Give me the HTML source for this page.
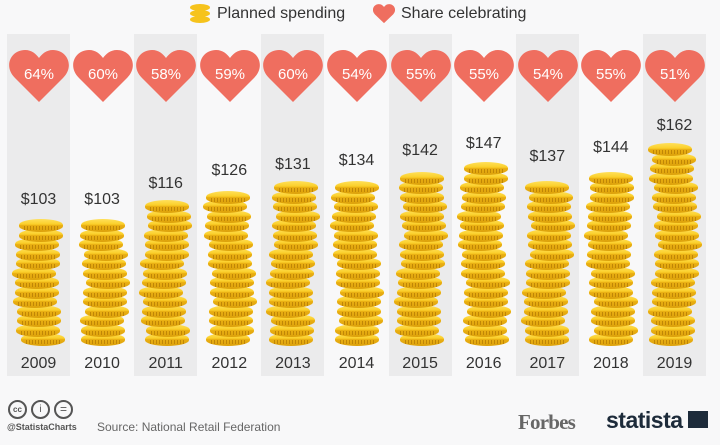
<!DOCTYPE html>
<html><head><meta charset="utf-8"><style>
body{margin:0;width:720px;height:445px;background:#f8f8f9;position:relative;overflow:hidden;font-family:"Liberation Sans","DejaVu Sans",sans-serif;}
.col{position:absolute;top:34px;height:342px;width:63px;}
.sh{background:#ebebec;}
.yr{position:absolute;top:355px;width:63px;text-align:center;font-size:16px;color:#333;}
.val{position:absolute;width:63px;text-align:center;font-size:16px;color:#333;}
.heart{position:absolute;top:49px;width:60px;height:54px;}
.coin{position:absolute;width:44px;height:13px;border-radius:50%/45%;background:linear-gradient(#ffe05a 0,#fbcf2a 40%,#e9ae12 50%,#dca10b 100%);}
.coin:after{content:"";position:absolute;left:5px;right:5px;top:7px;height:4px;background:repeating-linear-gradient(90deg,#c08606 0 1px,transparent 1px 3px);}
</style></head><body>
<div style="position:absolute;left:190px;top:4px;width:20px;height:20px">
<div style="position:absolute;top:0;left:0;width:20px;height:7px;border-radius:50%;background:#f6c31c"></div>
<div style="position:absolute;top:6px;left:0;width:20px;height:7px;border-radius:50%;background:#f6c31c"></div>
<div style="position:absolute;top:12px;left:0;width:20px;height:7px;border-radius:50%;background:#f6c31c"></div></div>
<div style="position:absolute;left:217px;top:5px;font-size:16px;color:#333">Planned spending</div>
<svg style="position:absolute;left:373px;top:4px" width="22" height="20" viewBox="0 0 60 54"><path d="M30 52 L5 28 C-6 16 2 0 16 0 C23 0 27 4 30 8 C33 4 37 0 44 0 C58 0 66 16 55 28 Z" fill="#ef6e5f"/></svg>
<div style="position:absolute;left:401px;top:5px;font-size:16px;color:#333">Share celebrating</div>
<div id="c"></div>
<div style="position:absolute;left:8px;top:400px;display:flex;gap:4px">
<div style="width:15px;height:15px;border:2px solid #555;border-radius:50%;font-size:8px;line-height:15px;text-align:center;color:#555;font-weight:bold">cc</div>
<div style="width:15px;height:15px;border:2px solid #555;border-radius:50%;font-size:10px;line-height:15px;text-align:center;color:#555">i</div>
<div style="width:15px;height:15px;border:2px solid #555;border-radius:50%;font-size:12px;line-height:15px;text-align:center;color:#555">=</div></div>
<div style="position:absolute;left:7px;top:422px;font-size:9px;color:#555;font-weight:bold">@StatistaCharts</div>
<div style="position:absolute;left:97px;top:420px;font-size:12px;color:#666">Source: National Retail Federation</div>
<div style="position:absolute;left:518px;top:410px;font-family:'Liberation Serif',serif;font-weight:bold;font-size:21px;color:#666;letter-spacing:-0.8px">Forbes</div>
<div style="position:absolute;left:606px;top:407px;font-weight:bold;font-size:23px;color:#1d2b3a;letter-spacing:-0.5px">statista</div>
<div style="position:absolute;left:688px;top:411px;width:20px;height:17px;background:#1d2b3a"></div>
<script>
var yrs=[2009,2010,2011,2012,2013,2014,2015,2016,2017,2018,2019];
var pct=[64,60,58,59,60,54,55,55,54,55,51];
var val=[103,103,116,126,131,134,142,147,137,144,162];
var tops=[217,217,201,188,182,178,168,161,174,165,143];
var h="";
for(var i=0;i<11;i++){
 var x=7+i*63.6;
 h+='<div class="col'+(i%2==0?' sh':'')+'" style="left:'+x+'px"></div>';
 h+='<svg class="heart" style="left:'+(x+2)+'px" viewBox="0 0 60 54"><path d="M30 53 L6 29 C-6 17 2 1 16 1 C23 1 27 5 30 9 C33 5 37 1 44 1 C58 1 66 17 54 29 Z" fill="#ef6e5f"/><text x="30" y="30" text-anchor="middle" font-size="15" fill="#fff" font-family="Liberation Sans,sans-serif">'+pct[i]+'%</text></svg>';
 h+='<div class="val" style="left:'+x+'px;top:'+(tops[i]-26)+'px">$'+val[i]+'</div>';
 h+='<div class="yr" style="left:'+x+'px">'+yrs[i]+'</div>';
 for(var y=333;y>=tops[i]-1;y-=9.5){
  var off=Math.round(Math.sin(y*0.7+i*3)*3+Math.sin(y*0.23+i)*2);
  h+='<div class="coin" style="left:'+(x+10+off)+'px;top:'+y+'px"></div>';
 }
}
document.getElementById("c").innerHTML=h;
</script>
</body></html>
